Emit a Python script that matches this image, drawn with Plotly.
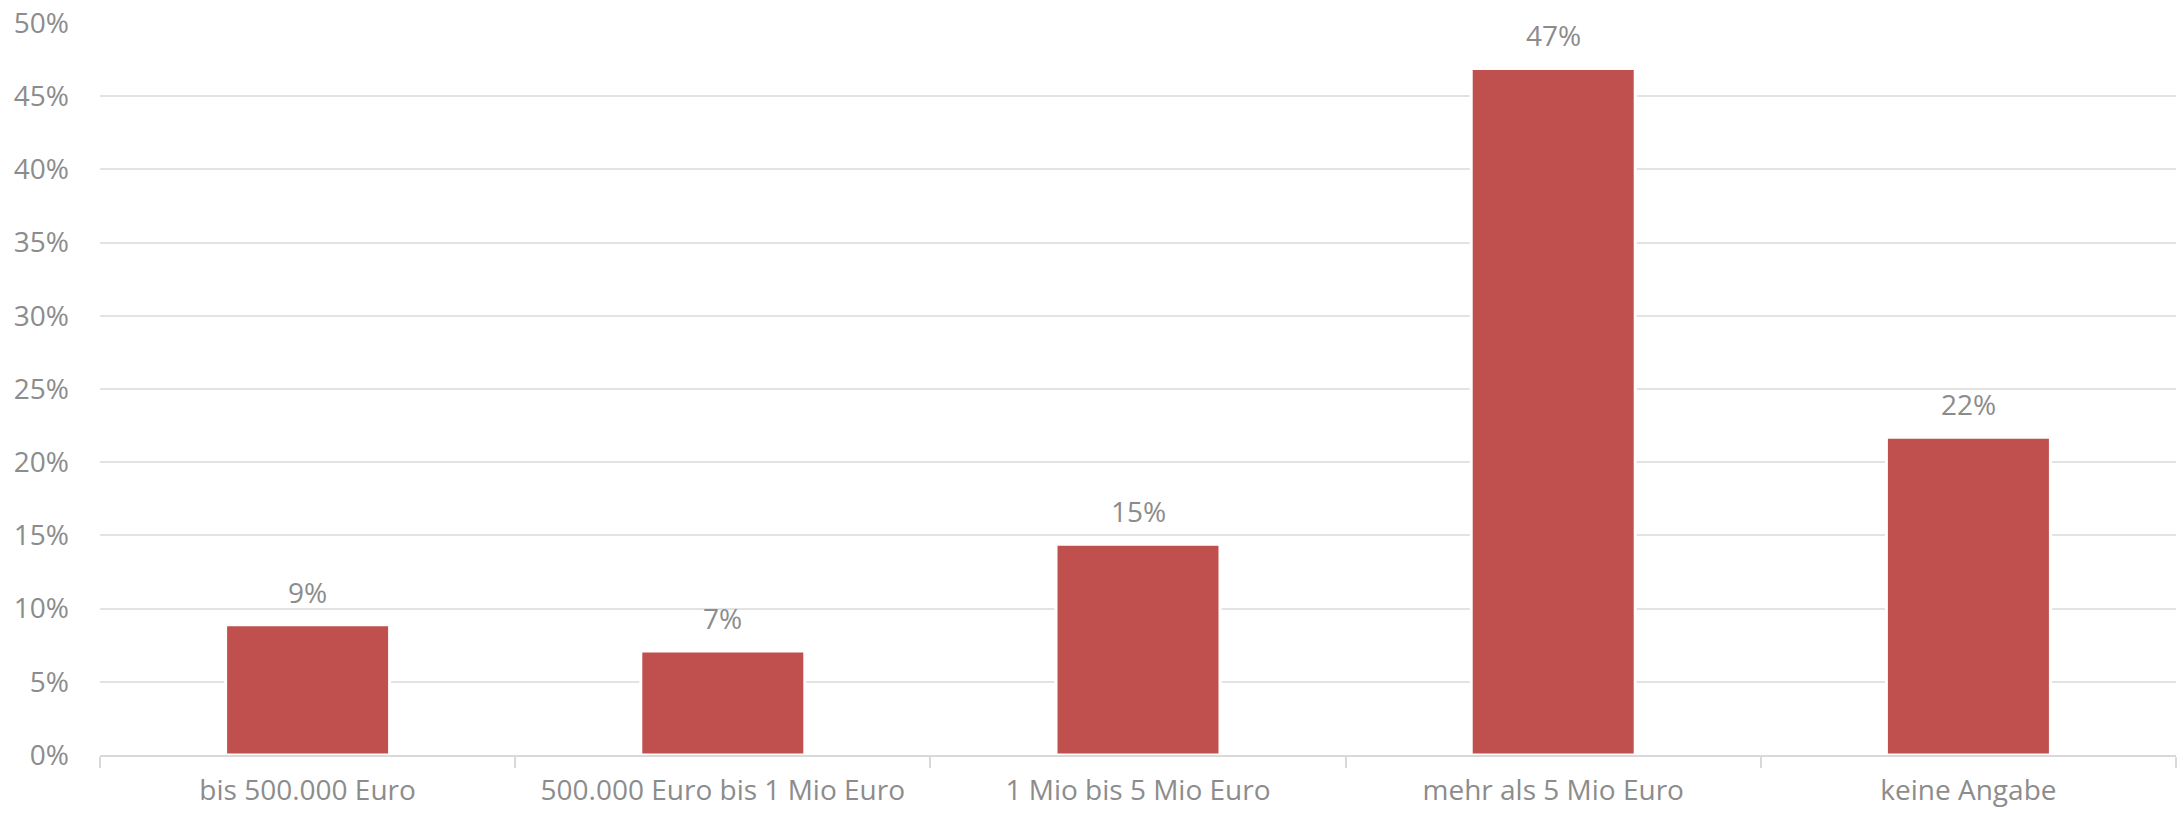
import plotly.graph_objects as go

categories = ["bis 500.000 Euro", "500.000 Euro bis 1 Mio Euro", "1 Mio bis 5 Mio Euro",
              "mehr als 5 Mio Euro", "keine Angabe"]
values = [8.9, 7.1, 14.4, 46.9, 21.7]
labels = ["9%", "7%", "15%", "47%", "22%"]
y_ticks = [0, 5, 10, 15, 20, 25, 30, 35, 40, 45, 50]
y_tick_labels = [f"{v}%" for v in y_ticks]

GRAY = "#8c8c8c"
FONT = "Open Sans"
FS = 28

fig = go.Figure()
fig.add_trace(go.Bar(
    x=categories, y=values,
    marker=dict(color="#C0504D", line=dict(color="white", width=3)),
    width=0.395,
    hoverinfo="skip",
))

for c, v, t in zip(categories, values, labels):
    fig.add_annotation(x=c, y=v, text=t, showarrow=False, yanchor="bottom",
                       yshift=12, font=dict(family=FONT, size=FS, color=GRAY))

fig.update_layout(
    width=2183, height=813,
    margin=dict(l=100, r=7, t=23, b=58),
    paper_bgcolor="white", plot_bgcolor="white",
    showlegend=False,
    font=dict(family=FONT, size=FS, color=GRAY),
)
fig.update_xaxes(
    type="category", automargin=False,
    showline=True, linecolor="#d9d9d9", linewidth=2,
    ticks="outside", tickson="boundaries", ticklen=11, tickcolor="#d9d9d9", tickwidth=2,
    showgrid=False,
    tickfont=dict(family=FONT, size=FS, color=GRAY),
    ticklabelstandoff=9,
)
fig.update_yaxes(
    range=[0, 50], tickvals=y_ticks, ticktext=y_tick_labels, automargin=False,
    showgrid=True, gridcolor="#e3e3e3", gridwidth=2,
    zeroline=False, showline=False,
    tickfont=dict(family=FONT, size=FS, color=GRAY),
    ticklabelstandoff=30,
)

fig.write_html("out.html", config={"displayModeBar": False},
               post_script="document.body.style.margin='0';document.body.style.overflow='hidden';")
